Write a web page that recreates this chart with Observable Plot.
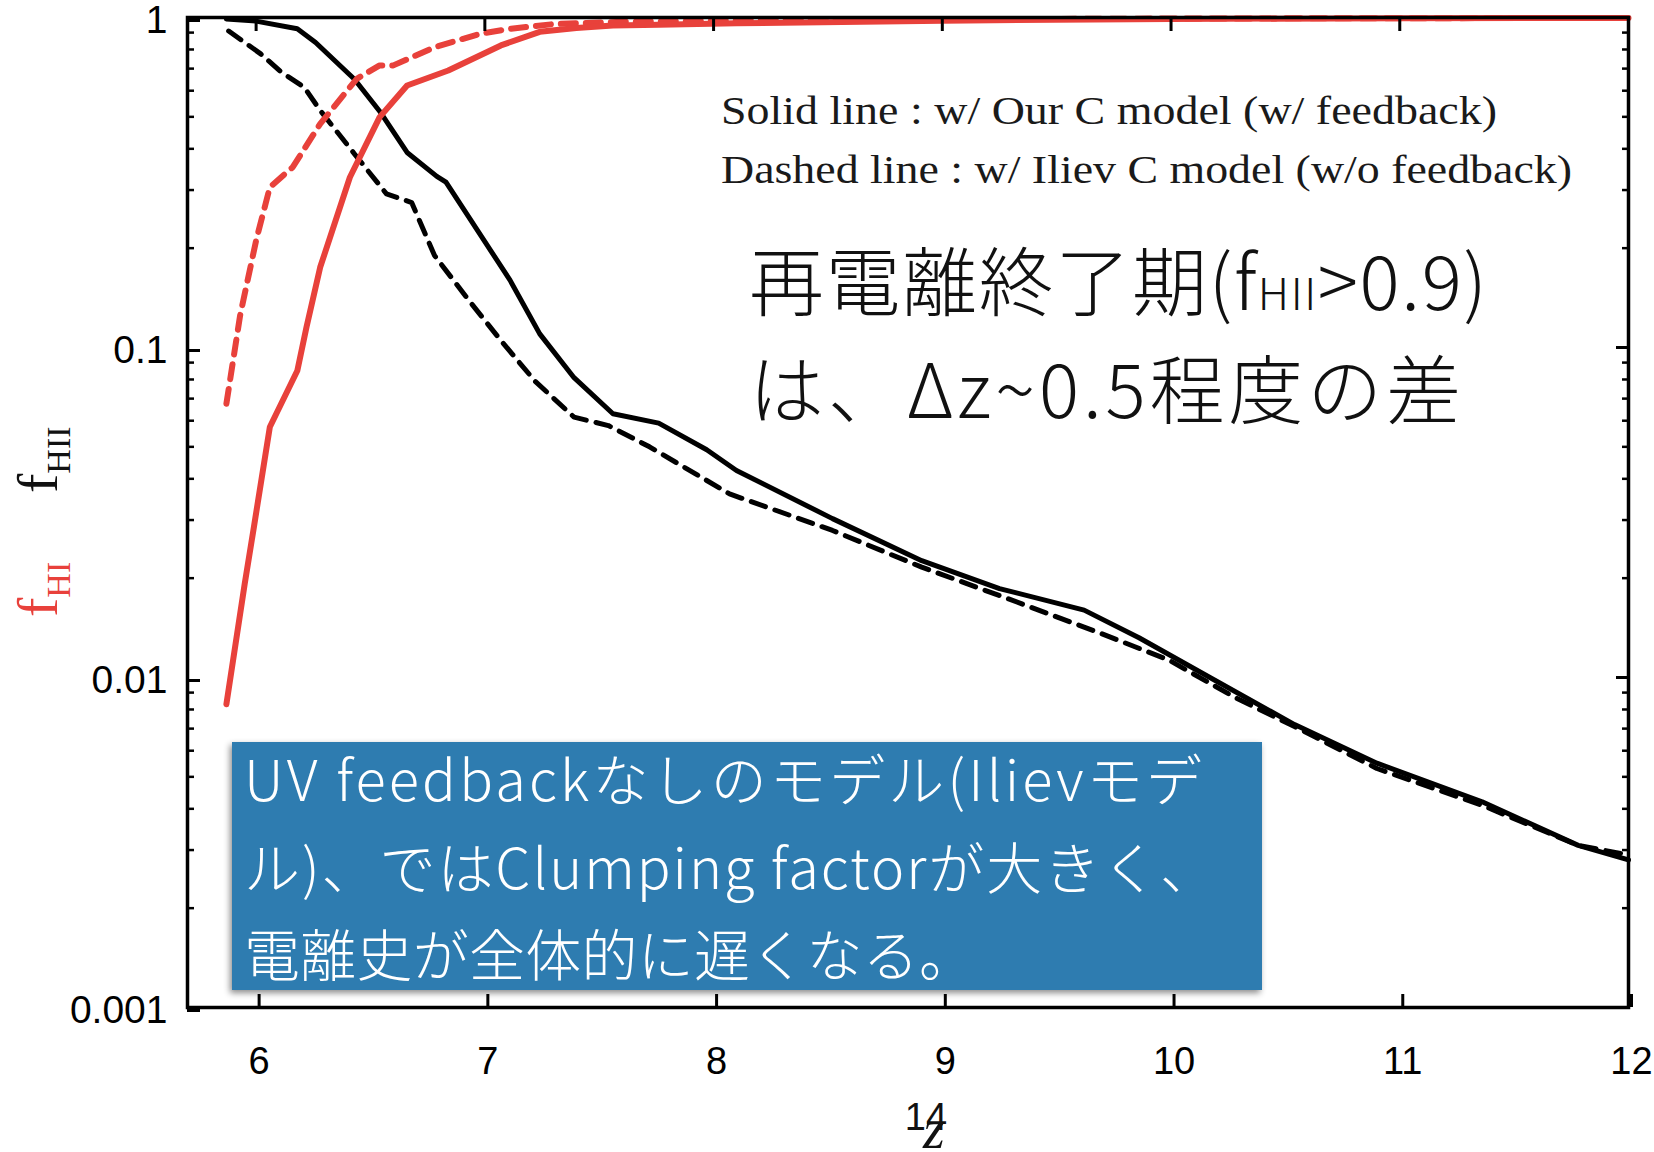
<!DOCTYPE html>
<html><head><meta charset="utf-8">
<script src="https://cdn.jsdelivr.net/npm/d3@7"></script>
<script src="https://cdn.jsdelivr.net/npm/@observablehq/plot@0.6"></script>
<style>body{margin:0;background:#fff} svg{display:block}</style>
</head><body><div id="chart"></div>
<script>
// Black solid: f_HII, our clumping model (w/ feedback)
const zHIIours = [5.87, 6.00, 6.18, 6.26, 6.43, 6.54, 6.66, 6.79, 6.83, 7.11, 7.24, 7.39, 7.56, 7.76, 7.97, 8.10, 8.52, 8.91, 9.25, 9.62, 9.86, 10.17, 10.54, 10.90, 11.36, 11.78, 12.0];
const fHIIours = [0.99, 0.975, 0.924, 0.84, 0.65, 0.52, 0.39, 0.33, 0.317, 0.16, 0.11, 0.081, 0.063, 0.059, 0.049, 0.0424, 0.0303, 0.0226, 0.0186, 0.016, 0.0132, 0.010, 0.0072, 0.0055, 0.0042, 0.0031, 0.0028];
// Black dashed: f_HII, Iliev model (w/o feedback)
const zHIIiliev = [5.88, 6.02, 6.11, 6.21, 6.28, 6.43, 6.57, 6.68, 6.78, 6.93, 7.07, 7.22, 7.39, 7.54, 7.72, 8.07, 8.52, 8.91, 9.29, 9.67, 9.99, 10.28, 10.54, 10.90, 11.36, 11.78, 12.0];
const fHIIiliev = [0.91, 0.776, 0.683, 0.615, 0.523, 0.386, 0.292, 0.275, 0.19, 0.139, 0.105, 0.079, 0.0615, 0.058, 0.050, 0.036, 0.0279, 0.0216, 0.0173, 0.0138, 0.0113, 0.0087, 0.0071, 0.0053, 0.0041, 0.0031, 0.0029];
// Red solid: f_HI, our model
const zHIours = [5.87, 5.95, 5.99, 6.06, 6.18, 6.22, 6.28, 6.41, 6.54, 6.66, 6.84, 7.07, 7.24, 7.40, 7.56, 7.76, 8.10, 9.0, 10.0, 11.0, 12.0];
const fHIours = [0.0083, 0.0192, 0.0285, 0.0574, 0.085, 0.115, 0.175, 0.328, 0.499, 0.622, 0.691, 0.823, 0.905, 0.93, 0.945, 0.95, 0.96, 0.978, 0.99, 0.995, 0.997];
// Red dashed: f_HI, Iliev model
const zHIiliev = [5.87, 5.93, 6.00, 6.06, 6.16, 6.28, 6.44, 6.54, 6.60, 6.78, 6.98, 7.11, 7.30, 7.60, 8.50, 10.0, 12.0];
const fHIiliev = [0.0675, 0.125, 0.211, 0.306, 0.352, 0.476, 0.652, 0.716, 0.716, 0.813, 0.893, 0.924, 0.955, 0.97, 0.985, 0.993, 0.997];

const xTicks = [6, 7, 8, 9, 10, 11, 12];
const yMajorTicks = [1, 0.1, 0.01, 0.001];
const yMajorLabels = ["1", "0.1", "0.01", "0.001"];
const yMinorTicks = [0.002,0.003,0.004,0.005,0.006,0.007,0.008,0.009,
                     0.02,0.03,0.04,0.05,0.06,0.07,0.08,0.09,
                     0.2,0.3,0.4,0.5,0.6,0.7,0.8,0.9];

const legendLines = ["Solid line : w/ Our C model (w/ feedback)", "Dashed line : w/ Iliev C model (w/o feedback)"];
const noteLine1 = ["再電離終了期(f", "HII", ">0.9)"];
const noteLine2 = "は、Δz~0.5程度の差";
const boxLines = ["UV feedbackなしのモデル(Ilievモデ", "ル)、ではClumping factorが大きく、", "電離史が全体的に遅くなる。"];
const pageNumber = "14";
const xLabel = "z";

const RED = "#e8413b";
const rows = (zs, fs) => zs.map((z, i) => ({z, f: fs[i]}));

const chart = Plot.plot({
  width: 1654, height: 1152,
  marginLeft: 187, marginRight: 26, marginTop: 17, marginBottom: 145,
  style: {fontFamily: "'Liberation Sans', Arial, sans-serif", background: "white", color: "black", overflow: "visible"},
  x: {domain: [5.70, 12]},
  y: {type: "log", domain: [0.001, 1]},
  marks: [
    Plot.line(rows(zHIIiliev, fHIIiliev), {x: "z", y: "f", stroke: "black", strokeWidth: 5, strokeDasharray: "15,10"}),
    Plot.line(rows(zHIIours, fHIIours), {x: "z", y: "f", stroke: "black", strokeWidth: 5}),
    Plot.line(rows(zHIiliev, fHIiliev), {x: "z", y: "f", stroke: RED, strokeWidth: 6, strokeDasharray: "15,10"}),
    Plot.line(rows(zHIours, fHIours), {x: "z", y: "f", stroke: RED, strokeWidth: 6}),
    Plot.frame({stroke: "black", strokeWidth: 3.5}),
    Plot.axisY(yMajorTicks, {anchor: "left", tickSize: -13, tickPadding: 33, strokeWidth: 3, fontSize: 39, label: null,
      tickFormat: d => yMajorLabels[yMajorTicks.indexOf(d)], dy: 3}),
    Plot.axisY(yMinorTicks, {anchor: "left", tickSize: -7, strokeWidth: 2.5, fill: "none", label: null}),
    Plot.axisY(yMajorTicks, {anchor: "right", tickSize: -13, strokeWidth: 3, fill: "none", label: null}),
    Plot.axisY(yMinorTicks, {anchor: "right", tickSize: -7, strokeWidth: 2.5, fill: "none", label: null}),
    Plot.axisX(xTicks, {anchor: "bottom", tickSize: -13, tickPadding: 53, strokeWidth: 3, fontSize: 38, label: null, tickFormat: d => String(d), dx: 3}),
    Plot.axisX(xTicks, {anchor: "top", tickSize: -13, strokeWidth: 3, fill: "none", label: null})
  ]
});
document.getElementById("chart").appendChild(chart);

const svg = d3.select(chart);
const defs = svg.append("defs");
defs.append("filter").attr("id", "boxShadow").attr("x", "-5%").attr("y", "-10%").attr("width", "110%").attr("height", "125%")
  .append("feDropShadow").attr("dx", -2).attr("dy", 3).attr("stdDeviation", 3)
  .attr("flood-color", "#000").attr("flood-opacity", 0.45);

const g = svg.append("g").attr("text-anchor", "start");

// Legend text (serif)
const serif = "'Liberation Serif', 'Times New Roman', serif";
const legendWidths = [776, 851];
const legendBaselines = [124, 183];
legendLines.forEach((s, i) => {
  g.append("text").attr("x", 721).attr("y", legendBaselines[i])
    .attr("font-family", serif).attr("font-size", 40).attr("fill", "#1a1a1a")
    .attr("textLength", legendWidths[i]).attr("lengthAdjust", "spacingAndGlyphs").text(s);
});

// Japanese annotation
const jp = "'Noto Sans CJK JP', 'Noto Sans', sans-serif";
const t1 = g.append("text").attr("x", 749).attr("y", 310).attr("font-family", jp).attr("font-size", 75).attr("font-weight", 300).attr("fill", "#111")
  .attr("textLength", 738).attr("lengthAdjust", "spacing");
t1.append("tspan").text(noteLine1[0]);
t1.append("tspan").attr("font-size", 44).text(noteLine1[1]);
t1.append("tspan").text(noteLine1[2]);
g.append("text").attr("x", 749).attr("y", 418).attr("font-family", jp).attr("font-size", 75).attr("font-weight", 300).attr("fill", "#111")
  .attr("textLength", 712).attr("lengthAdjust", "spacing").text(noteLine2);

// Blue box
g.append("rect").attr("x", 232).attr("y", 742).attr("width", 1030).attr("height", 248)
  .attr("fill", "#2f7bb0").attr("filter", "url(#boxShadow)");
const boxBaselines = [801, 889, 976];
const boxWidths = [958, 972, 731];
boxLines.forEach((s, i) => {
  g.append("text").attr("x", 244).attr("y", boxBaselines[i]).attr("font-family", jp)
    .attr("font-size", 56).attr("font-weight", 300).attr("fill", "white")
    .attr("textLength", boxWidths[i]).attr("lengthAdjust", "spacing").text(s);
});

// Y axis labels (rotated)
const yl1 = g.append("text").attr("transform", "translate(57,493) rotate(-90)").attr("font-family", serif).attr("font-size", 58).attr("fill", "#111");
yl1.append("tspan").text("f");
yl1.append("tspan").attr("font-size", 34).attr("dy", 13).text("HII");
const yl2 = g.append("text").attr("transform", "translate(57,617) rotate(-90)").attr("font-family", serif).attr("font-size", 58).attr("fill", RED);
yl2.append("tspan").text("f");
yl2.append("tspan").attr("font-size", 34).attr("dy", 13).text("HI");

// Page number and x label
g.append("text").attr("x", 926).attr("y", 1130).attr("text-anchor", "middle").attr("font-family", "'Liberation Sans', Arial, sans-serif").attr("font-size", 38).attr("fill", "#111").text(pageNumber);
g.append("text").attr("x", 934).attr("y", 1148).attr("text-anchor", "middle").attr("font-family", serif).attr("font-style", "italic").attr("font-size", 56).attr("fill", "#111").text(xLabel);
</script>
</body></html>
